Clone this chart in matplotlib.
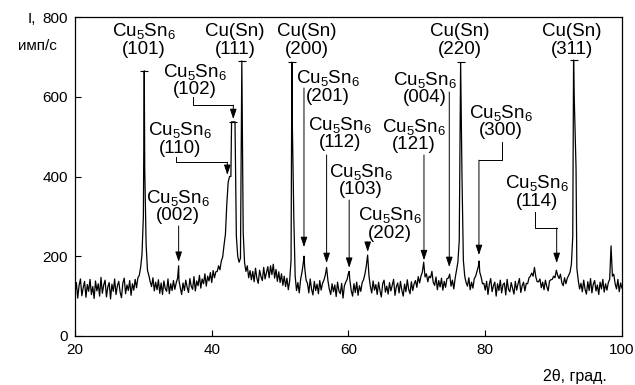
import numpy as np
import matplotlib
matplotlib.use('Agg')
import matplotlib.pyplot as plt

plt.rcParams['font.family'] = ['Liberation Sans', 'DejaVu Sans']

#__________________DATA

# 2theta grid (deg), intensity every 0.2 deg
two_theta = np.round(np.arange(20.0, 100.01, 0.2), 1)
intensity = [
    108, 134, 95, 127, 143, 101, 121, 137, 97, 129,    # 20
    112, 142, 104, 124, 94, 138, 113, 131, 100, 147,   # 22
    107, 128, 140, 98, 123, 134, 93, 130, 112, 143,    # 24
    104, 126, 137, 110, 96, 133, 145, 106, 128, 114,   # 26
    139, 102, 131, 115, 142, 121, 146, 152, 172, 205,  # 28
    300, 420, 230, 165, 152, 136, 124, 146, 113, 135,  # 30
    116, 141, 107, 133, 104, 138, 119, 112, 143, 106,  # 32
    131, 114, 139, 117, 133, 145, 140, 121, 104, 133,  # 34
    114, 140, 122, 109, 144, 125, 117, 149, 113, 138,  # 36
    126, 152, 120, 143, 131, 156, 125, 150, 138, 159,  # 38
    134, 164, 146, 161, 162, 176, 166, 188, 198, 228,  # 40
    255, 330, 385, 400, 400, 537, 537, 537, 250, 200,  # 42
    185, 195, 690, 260, 184, 162, 176, 146, 164, 141,  # 44
    162, 136, 170, 145, 132, 165, 149, 139, 172, 143,  # 46
    159, 174, 146, 176, 154, 180, 145, 167, 137, 161,  # 48
    134, 156, 127, 150, 124, 145, 116, 139, 190, 520,  # 50
    300, 150, 114, 134, 108, 142, 160, 185, 170, 140,  # 52
    132, 108, 143, 117, 103, 137, 114, 130, 106, 139,  # 54
    115, 132, 140, 152, 172, 138, 117, 104, 131, 111,  # 56
    128, 99, 135, 113, 106, 132, 95, 126, 135, 142,    # 58
    158, 140, 114, 100, 131, 109, 135, 102, 126, 112,  # 60
    134, 141, 155, 175, 203, 150, 124, 108, 138, 115,  # 62
    129, 104, 135, 114, 98, 131, 140, 110, 125, 105,   # 64
    134, 113, 128, 142, 102, 124, 133, 108, 137, 115,  # 66
    100, 130, 111, 141, 117, 106, 136, 114, 131, 139,  # 68
    122, 149, 133, 150, 160, 185, 148, 156, 136, 150,  # 70
    146, 162, 134, 127, 148, 116, 139, 123, 145, 115,  # 72
    137, 122, 144, 145, 155, 125, 140, 118, 145, 165,  # 74
    185, 240, 686, 400, 190, 150, 134, 125, 146, 116,  # 76
    135, 120, 144, 150, 163, 175, 160, 148, 131, 132,  # 78
    115, 137, 104, 130, 144, 111, 126, 135, 100, 131,  # 80
    114, 140, 108, 129, 133, 103, 142, 117, 111, 134,  # 82
    120, 105, 137, 115, 131, 144, 109, 126, 135, 113,  # 84
    132, 131, 146, 150, 158, 150, 172, 148, 136, 136,  # 86
    143, 121, 135, 116, 140, 124, 113, 138, 141, 142,  # 88
    150, 146, 165, 152, 144, 155, 134, 126, 146, 131,  # 90
    145, 152, 160, 180, 250, 610, 470, 170, 140, 118,  # 92
    132, 111, 140, 117, 105, 136, 114, 144, 108, 130,  # 94
    139, 113, 128, 104, 135, 118, 142, 110, 131, 115,  # 96
    134, 142, 226, 150, 155, 131, 118, 142, 111, 133,  # 98
    120,                                               # 100
]

# sharp peak tops lying between grid points
peak_2theta = [30.13, 35.16, 42.9, 51.72, 53.5, 60.1, 79.1, 92.92, 93.28]
peak_int    = [665, 176, 537, 687, 200, 162, 188, 692, 421]

# truncated reflections (cap marks)
cap_2theta = [30.13, 43.15, 44.4, 51.72, 76.4, 92.92]
cap_int    = [665, 537, 690, 687, 686, 692]

# labels: phase, hkl, x centre, baseline of first line
CU5SN6 = r'Cu$\mathregular{_5}$Sn$\mathregular{_6}$'
CUSN = 'Cu(Sn)'
lab_phase = [CU5SN6, CUSN, CUSN, CU5SN6, CU5SN6, CU5SN6, CUSN, CUSN,
             CU5SN6, CU5SN6, CU5SN6, CU5SN6, CU5SN6, CU5SN6, CU5SN6, CU5SN6]
lab_hkl = ['(101)', '(111)', '(200)', '(102)', '(201)', '(004)', '(220)', '(311)',
           '(300)', '(110)', '(112)', '(121)', '(103)', '(114)', '(002)', '(202)']
lab_x = [30.09, 43.40, 53.93, 37.55, 57.00, 71.19, 76.31, 92.69,
         82.30, 35.36, 58.76, 69.58, 61.83, 87.57, 35.06, 66.07]
lab_y = [752, 752, 752, 650, 634, 630, 752, 752,
         547, 504, 517, 512, 399, 371, 334, 291]

# straight arrows: x, start, tip
arr_x     = [35.16, 53.49, 56.80, 60.10, 62.81, 71.04, 74.74]
arr_start = [276, 622, 454, 341, 236, 454, 612]
arr_tip   = [186, 223, 183, 171, 211, 190, 173]

# bent leaders: x start, y start, y bend, x tip, y tip
bent = [(34.77, 449, 436, 42.28, 404),   # (110)
        (37.30, 599, 579, 43.15, 544),   # (102)
        (82.45, 487, 441, 79.08, 203),   # (300)
        (87.28, 311, 271, 90.45, 183)]   # (114)

#__________________FIGURE

fig = plt.figure(figsize=(6.35, 3.85), dpi=100)
ax = fig.add_axes([0.1181, 0.1273, 0.8614, 0.8285])

x_all = np.concatenate([two_theta, peak_2theta])
y_all = np.concatenate([intensity, peak_int])
order = np.argsort(x_all, kind='stable')
ax.plot(x_all[order], y_all[order], color='k', lw=0.9)

ax.plot(cap_2theta, cap_int, ls='none', marker='_', ms=6, mew=0.8, color='k')

for ph, hkl, x, y in zip(lab_phase, lab_hkl, lab_x, lab_y):
    ax.text(x, y, ph, ha='center', va='baseline', fontsize=13.5)
    ax.text(x, y - 44, hkl, ha='center', va='baseline', fontsize=13.5)

aprops = dict(arrowstyle='-|>,head_length=0.6,head_width=0.2', lw=0.7,
              color='k', shrinkA=0, shrinkB=0)
for x, y0, y1 in zip(arr_x, arr_start, arr_tip):
    ax.annotate('', xy=(x, y1), xytext=(x, y0), arrowprops=aprops)

for x0, y0, yb, x1, y1 in bent:
    ax.plot([x0, x0, x1], [y0, yb, yb], color='k', lw=0.7)
    ax.annotate('', xy=(x1, y1), xytext=(x1, yb), arrowprops=aprops)

ax.set_xlim(20, 100)
ax.set_ylim(0, 800)
ax.set_xticks([20, 40, 60, 80, 100])
ax.set_yticks([0, 200, 400, 600, 800])
ax.tick_params(direction='in', length=4, width=0.8, labelsize=11, pad=5)
for s in ax.spines.values():
    s.set_linewidth(0.9)

fig.text(28/635, 1 - 23/385, 'I,', ha='left', va='baseline', fontsize=11)
fig.text(37.5/635, 1 - 50/385, 'имп/с', ha='center', va='baseline', fontsize=11)
fig.text(607/635, 1 - 381/385, '2θ, град.', ha='right', va='baseline', fontsize=11.5)

fig.savefig('out.png', dpi=100)
plt.close()
